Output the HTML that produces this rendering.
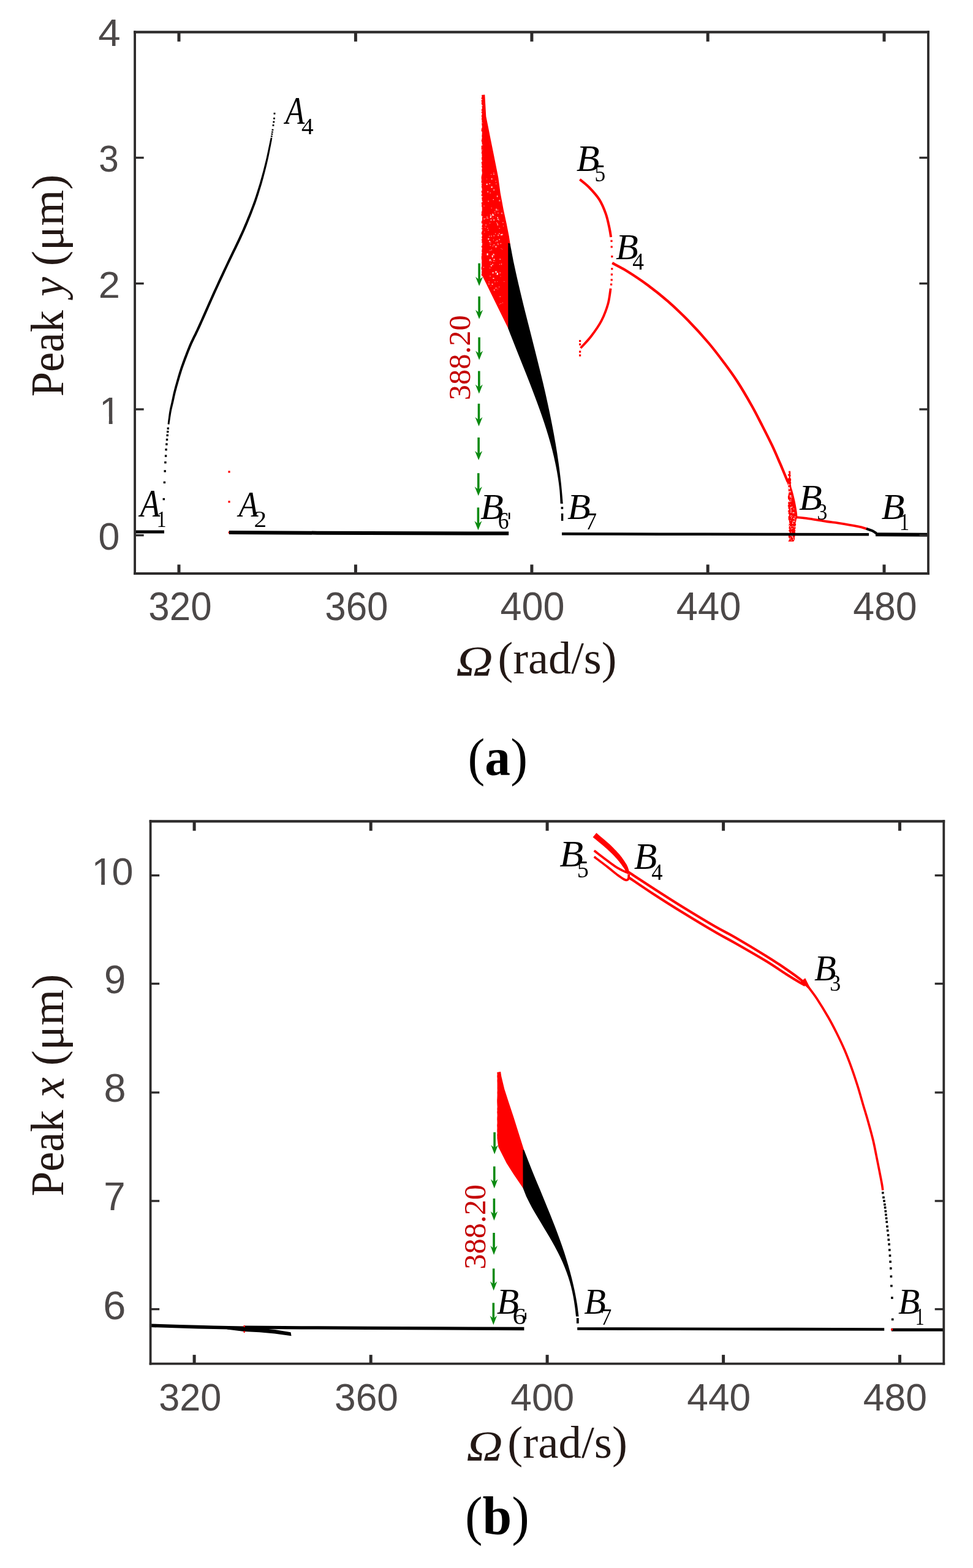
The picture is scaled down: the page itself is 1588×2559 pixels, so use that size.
<!DOCTYPE html>
<html><head><meta charset="utf-8"><title>Bifurcation diagrams</title>
<style>html,body{margin:0;padding:0;background:#fff}svg{display:block}</style></head>
<body><svg width="1588" height="2559" viewBox="0 0 1588 2559">
<rect width="1588" height="2559" fill="#fff"/>
<polygon points="276.44,692.69 276.54,692.01 276.67,691.13 276.82,690.1 276.98,688.93 277.17,687.66 277.36,686.31 277.57,684.93 277.78,683.52 278.01,682.07 278.25,680.52 278.49,678.91 278.75,677.25 279.02,675.54 279.31,673.81 279.63,672.06 279.97,670.32 280.34,668.56 280.74,666.74 281.17,664.89 281.63,663.01 282.09,661.11 282.55,659.2 283.01,657.29 283.46,655.39 283.87,653.53 284.27,651.7 284.65,649.89 285.04,648.08 285.43,646.25 285.85,644.39 286.3,642.46 286.8,640.45 287.34,638.34 287.91,636.15 288.52,633.91 289.15,631.61 289.8,629.28 290.47,626.93 291.15,624.57 291.83,622.22 292.51,619.88 293.19,617.53 293.88,615.18 294.59,612.81 295.31,610.42 296.06,608.01 296.84,605.58 297.65,603.11 298.5,600.61 299.39,598.06 300.3,595.48 301.24,592.88 302.21,590.26 303.18,587.64 304.17,585.02 305.17,582.41 306.16,579.81 307.16,577.2 308.18,574.59 309.2,571.99 310.25,569.39 311.31,566.79 312.41,564.2 313.53,561.61 314.7,559.02 315.93,556.39 317.21,553.76 318.5,551.12 319.8,548.5 321.08,545.9 322.32,543.35 323.51,540.85 324.55,538.62 325.44,536.71 326.24,534.96 327.05,533.19 327.93,531.23 328.97,528.91 330.24,526.06 331.83,522.51 333.76,518.17 335.97,513.17 338.4,507.66 340.99,501.78 343.69,495.68 346.43,489.51 349.16,483.41 351.82,477.53 354.44,471.8 357.07,466.06 359.74,460.3 362.43,454.51 365.15,448.68 367.9,442.8 370.69,436.86 373.51,430.85 376.42,424.73 379.44,418.45 382.53,412.07 385.64,405.66 388.73,399.27 391.73,392.96 394.61,386.79 397.33,380.82 399.89,374.97 402.37,369.17 404.77,363.44 407.07,357.84 409.26,352.39 411.33,347.14 413.27,342.12 415.08,337.37 416.72,332.91 418.2,328.73 419.53,324.78 420.75,321.03 421.89,317.44 422.96,313.97 423.99,310.58 425.02,307.23 426.01,303.98 426.93,300.89 427.79,297.93 428.6,295.06 429.37,292.24 430.13,289.44 430.88,286.62 431.64,283.74 432.41,280.79 433.17,277.81 433.92,274.82 434.66,271.84 435.37,268.88 436.06,265.97 436.73,263.12 437.36,260.36 437.96,257.64 438.54,254.94 439.09,252.27 439.62,249.67 440.12,247.15 440.59,244.73 441.04,242.44 441.47,240.3 441.88,238.25 442.27,236.24 442.64,234.33 442.98,232.53 443.3,230.89 443.57,229.45 443.8,228.23 443.97,227.27 441.23,226.73 441.02,227.68 440.77,228.9 440.48,230.34 440.14,231.97 439.77,233.75 439.38,235.66 438.96,237.65 438.53,239.7 438.08,241.84 437.61,244.13 437.11,246.54 436.58,249.04 436.03,251.63 435.46,254.27 434.86,256.95 434.24,259.64 433.59,262.38 432.9,265.21 432.19,268.1 431.45,271.04 430.7,274 429.93,276.97 429.15,279.93 428.36,282.86 427.57,285.73 426.8,288.53 426.02,291.31 425.23,294.1 424.4,296.95 423.53,299.88 422.59,302.94 421.58,306.17 420.53,309.51 419.47,312.88 418.38,316.33 417.23,319.89 416,323.59 414.66,327.49 413.17,331.62 411.52,336.03 409.71,340.74 407.75,345.73 405.66,350.95 403.46,356.36 401.15,361.93 398.74,367.62 396.24,373.38 393.67,379.18 390.98,385.12 388.11,391.25 385.12,397.54 382.04,403.92 378.94,410.32 375.84,416.7 372.81,423 369.89,429.15 367.07,435.16 364.28,441.1 361.52,446.98 358.8,452.82 356.11,458.62 353.44,464.38 350.8,470.13 348.18,475.87 345.51,481.77 342.78,487.88 340.03,494.06 337.33,500.17 334.74,506.05 332.31,511.56 330.1,516.55 328.17,520.89 326.59,524.43 325.32,527.28 324.28,529.59 323.4,531.54 322.6,533.3 321.8,535.04 320.93,536.93 319.89,539.15 318.72,541.61 317.49,544.14 316.21,546.73 314.91,549.35 313.61,552.01 312.32,554.67 311.07,557.34 309.87,559.99 308.73,562.62 307.62,565.25 306.54,567.88 305.49,570.51 304.45,573.14 303.43,575.76 302.43,578.38 301.43,580.99 300.44,583.61 299.46,586.25 298.49,588.89 297.53,591.53 296.59,594.16 295.68,596.77 294.8,599.35 293.95,601.89 293.14,604.39 292.36,606.86 291.62,609.29 290.9,611.71 290.2,614.1 289.52,616.47 288.84,618.83 288.17,621.18 287.5,623.53 286.84,625.9 286.18,628.27 285.54,630.62 284.91,632.93 284.31,635.2 283.74,637.41 283.2,639.55 282.71,641.61 282.27,643.58 281.85,645.48 281.46,647.33 281.09,649.15 280.72,650.95 280.34,652.77 279.94,654.61 279.53,656.48 279.1,658.38 278.66,660.29 278.22,662.21 277.79,664.11 277.37,666 276.98,667.86 276.63,669.68 276.32,671.48 276.03,673.27 275.77,675.04 275.53,676.78 275.31,678.46 275.1,680.08 274.91,681.63 274.72,683.08 274.52,684.49 274.34,685.9 274.17,687.25 274.01,688.53 273.87,689.71 273.74,690.75 273.64,691.63 273.56,692.31" fill="#000"/>
<path d="M442.6 227 C442.87 225.33 443.75 219.83 444.2 217 C444.65 214.17 445.12 211.17 445.3 210" fill="none" stroke="#000" stroke-width="2.8" stroke-linecap="butt" stroke-linejoin="round" stroke-dasharray="2.2 1.3"/>
<rect x="444.6" y="203.1" width="2.8" height="2.8" fill="#000"/>
<rect x="445.4" y="197.6" width="2.8" height="2.8" fill="#000"/>
<rect x="446.1" y="191.9" width="2.8" height="2.8" fill="#000"/>
<rect x="446.6" y="183.9" width="2.8" height="2.8" fill="#000"/>
<rect x="272.6" y="697.5" width="3.4" height="3.4" fill="#000"/>
<rect x="272.05" y="702.9" width="3.4" height="3.4" fill="#000"/>
<rect x="271.5" y="708.7" width="3.4" height="3.4" fill="#000"/>
<rect x="270.8" y="715.8" width="3.4" height="3.4" fill="#000"/>
<rect x="270.2" y="723.3" width="3.4" height="3.4" fill="#000"/>
<rect x="269.4" y="732.05" width="3.4" height="3.4" fill="#000"/>
<rect x="268.9" y="742.4" width="3.4" height="3.4" fill="#000"/>
<rect x="268.2" y="753" width="3.4" height="3.4" fill="#000"/>
<rect x="267.5" y="767.2" width="3.4" height="3.4" fill="#000"/>
<rect x="266.7" y="785.6" width="3.4" height="3.4" fill="#000"/>
<rect x="265.6" y="812.9" width="3.4" height="3.4" fill="#000"/>
<rect x="372.4" y="768.4" width="3.2" height="3.2" fill="#ff0000"/>
<rect x="372.4" y="817.3" width="3.2" height="3.2" fill="#ff0000"/>
<rect x="372.7" y="867.4" width="3.2" height="3.2" fill="#ff0000"/>
<polygon points="791.3,154.6 793.3,190 796.7,206.7 800.8,227.5 805,248.3 809.2,269.2 813.3,290 816.7,315 821.7,342 826.7,365 830.8,385.8 832.5,397 832.5,470 830,537 829.2,535.5 787.5,450.8 786.4,450 785.65,448.63 786.3,446.05 785.97,443.83 786.54,441.55 785.75,439.39 785.51,436.79 786.13,435.01 786.25,433.45 786.22,431.21 786.11,428.45 786.34,425.72 786.01,423.58 785.69,420.83 785.87,418.74 785.85,416.43 785.86,414.5 786.69,412.68 786.12,409.99 786.26,407.22 786.9,404.82 785.69,403.26 786,401 786.91,398.59 785.71,395.96 786.8,393.36 785.68,391.62 786.54,389.85 786.08,387.06 786.9,385 785.98,382.4 785.76,379.82 786.58,377.65 786.81,375.08 785.62,372.66 786.44,370.07 786.71,367.9 786.4,365.17 785.78,363.36 785.82,361.52 786.88,359.5 786.85,356.65 786.88,354.52 785.87,352.07 785.54,350.16 786.01,348.58 785.83,346.36 786.68,343.84 786.73,341.24 786.67,338.4 785.97,336.56 786.27,333.99 785.74,331.44 785.88,329.41 786.74,326.95 786.26,324.12 786.28,322.55 786.26,320.81 785.53,318.02 786.69,316.26 785.99,314.37 785.62,312.7 786.17,310.52 786.72,307.67 786.02,305.97 785.86,303.97 786.38,302.23 785.54,299.54 785.65,297.52 785.5,295.78 785.99,294.17 785.8,292.42 785.59,290.79 785.65,288.41 786.07,286.34 786.76,283.75 786.8,281.18 786.47,279.57 786.24,277.21 786.87,274.76 786.03,272.47 785.51,270.38 786.35,268.49 785.84,266.31 785.75,264.47 786.88,262.73 786.02,260.02 785.9,257.93 786.68,255.25 786.29,252.55 785.62,250.41 786.06,247.72 785.69,245.86 785.58,243.3 785.74,241.61 785.53,239.46 786.06,237.04 786.68,235.12 786.43,232.27 785.59,229.8 786.18,227.39 786.71,224.6 786.34,222.46 786.5,220.13 786.76,218.18 786.6,215.88 785.56,213.46 785.72,211.28 786.1,208.74 786.91,207.04 786.55,205.12 786.26,202.42 785.85,200.13 786.64,197.66 786.15,195.73 785.95,193.42 786.48,191.31 785.59,189.5 786.29,187.88 786.42,185.84 785.76,183.54 785.94,180.92 785.71,179.22 786.74,177.3 786.91,175.7 786.33,173.64 786.4,170.85 785.68,169.01 786.11,166.38 785.6,164.72 785.55,162.61 785.58,160.4 786.27,158.37 786.44,156.74 785.97,155" fill="#ff0000"/>
<rect x="800.45" y="352.72" width="0.9" height="1.26" fill="#fff" opacity="0.95"/>
<rect x="801.5" y="304.35" width="2.2" height="2.2" fill="#fff" opacity="0.95"/>
<rect x="805.38" y="358.2" width="1.7" height="1.7" fill="#fff" opacity="0.95"/>
<rect x="816.64" y="396.79" width="1.4" height="1.4" fill="#fff" opacity="0.8"/>
<rect x="796.25" y="327.59" width="1.7" height="1.7" fill="#fff" opacity="0.6"/>
<rect x="803.62" y="417.74" width="1.1" height="1.1" fill="#fff" opacity="0.6"/>
<rect x="797.3" y="462.78" width="1.4" height="1.4" fill="#fff" opacity="0.8"/>
<rect x="822.19" y="458.96" width="1.1" height="0.77" fill="#fff" opacity="0.8"/>
<rect x="797.55" y="459.51" width="1.1" height="1.1" fill="#fff" opacity="0.95"/>
<rect x="805.56" y="383.77" width="1.4" height="1.96" fill="#fff" opacity="0.6"/>
<rect x="795.19" y="372.06" width="1.4" height="0.98" fill="#fff" opacity="0.8"/>
<rect x="803.88" y="400.92" width="0.9" height="1.26" fill="#fff" opacity="0.8"/>
<rect x="800.86" y="396" width="0.9" height="0.63" fill="#fff" opacity="0.6"/>
<rect x="792.71" y="356.02" width="1.1" height="1.1" fill="#fff" opacity="0.6"/>
<rect x="815.49" y="444.3" width="1.4" height="1.96" fill="#fff" opacity="0.6"/>
<rect x="805.54" y="398.59" width="1.7" height="1.7" fill="#fff" opacity="0.6"/>
<rect x="813.56" y="358.55" width="1.1" height="1.54" fill="#fff" opacity="0.6"/>
<rect x="791.07" y="356.65" width="0.9" height="0.9" fill="#fff" opacity="0.6"/>
<rect x="799.16" y="408.38" width="1.4" height="0.98" fill="#fff" opacity="0.8"/>
<rect x="818.62" y="381.7" width="2.2" height="2.2" fill="#fff" opacity="0.6"/>
<rect x="799.56" y="397.29" width="0.9" height="0.9" fill="#fff" opacity="0.8"/>
<rect x="798.63" y="299" width="1.4" height="1.4" fill="#fff" opacity="0.95"/>
<rect x="800.74" y="432.55" width="2.2" height="2.2" fill="#fff" opacity="0.8"/>
<rect x="791.19" y="370.47" width="1.4" height="0.98" fill="#fff" opacity="0.6"/>
<rect x="805.33" y="281.61" width="1.1" height="1.54" fill="#fff" opacity="0.6"/>
<rect x="803.7" y="444.12" width="1.7" height="2.38" fill="#fff" opacity="0.95"/>
<rect x="798.98" y="363.75" width="1.1" height="1.1" fill="#fff" opacity="0.6"/>
<rect x="810.54" y="446.97" width="1.1" height="1.54" fill="#fff" opacity="0.8"/>
<rect x="814.98" y="496" width="0.9" height="0.63" fill="#fff" opacity="0.95"/>
<rect x="799.96" y="429.23" width="1.1" height="0.77" fill="#fff" opacity="0.6"/>
<rect x="802.63" y="416.82" width="2.2" height="2.2" fill="#fff" opacity="0.95"/>
<rect x="800.81" y="351.47" width="1.7" height="1.7" fill="#fff" opacity="0.6"/>
<rect x="789.42" y="356.67" width="1.4" height="1.4" fill="#fff" opacity="0.95"/>
<rect x="792.39" y="366.5" width="1.4" height="1.4" fill="#fff" opacity="0.8"/>
<rect x="801.7" y="338.85" width="0.9" height="1.26" fill="#fff" opacity="0.8"/>
<rect x="798.61" y="393.99" width="2.2" height="1.54" fill="#fff" opacity="0.6"/>
<rect x="795.09" y="355.75" width="1.7" height="1.19" fill="#fff" opacity="0.8"/>
<rect x="801.05" y="284.4" width="1.1" height="0.77" fill="#fff" opacity="0.95"/>
<rect x="815.65" y="483.3" width="1.1" height="1.54" fill="#fff" opacity="0.8"/>
<rect x="805.06" y="425.75" width="1.4" height="1.4" fill="#fff" opacity="0.6"/>
<rect x="810.78" y="445.37" width="2.2" height="3.08" fill="#fff" opacity="0.95"/>
<rect x="805.32" y="422.5" width="2.2" height="1.54" fill="#fff" opacity="0.95"/>
<rect x="817.44" y="404.99" width="1.1" height="0.77" fill="#fff" opacity="0.6"/>
<rect x="808.57" y="295.11" width="0.9" height="1.26" fill="#fff" opacity="0.8"/>
<rect x="808.32" y="401.51" width="2.2" height="2.2" fill="#fff" opacity="0.8"/>
<rect x="804.24" y="355.68" width="0.9" height="0.63" fill="#fff" opacity="0.95"/>
<rect x="811.74" y="397.17" width="1.7" height="1.7" fill="#fff" opacity="0.6"/>
<rect x="799.47" y="450.05" width="1.1" height="1.1" fill="#fff" opacity="0.95"/>
<rect x="804.31" y="414.49" width="1.7" height="1.19" fill="#fff" opacity="0.8"/>
<rect x="800.68" y="466.64" width="0.9" height="0.9" fill="#fff" opacity="0.6"/>
<rect x="801.63" y="407.18" width="1.4" height="1.4" fill="#fff" opacity="0.6"/>
<rect x="804.87" y="391.15" width="0.9" height="0.9" fill="#fff" opacity="0.95"/>
<rect x="810.6" y="392.16" width="1.4" height="1.96" fill="#fff" opacity="0.8"/>
<rect x="796.15" y="388.86" width="2.2" height="2.2" fill="#fff" opacity="0.8"/>
<rect x="819.86" y="493.63" width="0.9" height="0.9" fill="#fff" opacity="0.8"/>
<rect x="805.35" y="309.2" width="1.7" height="1.7" fill="#fff" opacity="0.8"/>
<rect x="807.14" y="344.98" width="1.1" height="1.1" fill="#fff" opacity="0.8"/>
<rect x="814.33" y="326.38" width="2.2" height="2.2" fill="#fff" opacity="0.6"/>
<rect x="799.38" y="422.87" width="1.7" height="2.38" fill="#fff" opacity="0.6"/>
<rect x="803.13" y="419.37" width="1.1" height="1.54" fill="#fff" opacity="0.8"/>
<rect x="796.23" y="375.22" width="1.4" height="0.98" fill="#fff" opacity="0.8"/>
<rect x="815.06" y="430.97" width="0.9" height="0.9" fill="#fff" opacity="0.95"/>
<rect x="794.03" y="353.64" width="1.7" height="1.19" fill="#fff" opacity="0.8"/>
<rect x="812.06" y="471.3" width="0.9" height="0.9" fill="#fff" opacity="0.6"/>
<rect x="809.25" y="299.54" width="1.1" height="1.1" fill="#fff" opacity="0.8"/>
<rect x="801.29" y="384.47" width="1.4" height="1.96" fill="#fff" opacity="0.6"/>
<rect x="808.41" y="442.67" width="2.2" height="2.2" fill="#fff" opacity="0.95"/>
<rect x="807.99" y="380.65" width="1.1" height="1.1" fill="#fff" opacity="0.8"/>
<rect x="804.57" y="324.94" width="1.4" height="1.4" fill="#fff" opacity="0.8"/>
<rect x="811.52" y="354.13" width="1.4" height="1.96" fill="#fff" opacity="0.95"/>
<rect x="804.82" y="350.76" width="1.7" height="1.19" fill="#fff" opacity="0.6"/>
<rect x="794.49" y="413.48" width="2.2" height="3.08" fill="#fff" opacity="0.95"/>
<rect x="818.13" y="346.95" width="1.7" height="2.38" fill="#fff" opacity="0.6"/>
<rect x="799.69" y="400.08" width="1.1" height="1.1" fill="#fff" opacity="0.95"/>
<rect x="799.57" y="314.16" width="1.4" height="1.4" fill="#fff" opacity="0.6"/>
<rect x="803.29" y="430.78" width="1.7" height="1.7" fill="#fff" opacity="0.8"/>
<rect x="811.94" y="356.9" width="1.7" height="1.7" fill="#fff" opacity="0.95"/>
<rect x="808.37" y="394.08" width="1.1" height="0.77" fill="#fff" opacity="0.8"/>
<rect x="802.7" y="462.71" width="1.7" height="2.38" fill="#fff" opacity="0.8"/>
<rect x="816.5" y="450.63" width="0.9" height="0.9" fill="#fff" opacity="0.6"/>
<rect x="812.32" y="382.82" width="1.7" height="2.38" fill="#fff" opacity="0.6"/>
<rect x="805.84" y="472.2" width="1.7" height="2.38" fill="#fff" opacity="0.6"/>
<rect x="799.2" y="436.95" width="1.1" height="0.77" fill="#fff" opacity="0.95"/>
<rect x="815.37" y="422.49" width="1.7" height="1.19" fill="#fff" opacity="0.95"/>
<rect x="788.87" y="435.76" width="1.1" height="1.1" fill="#fff" opacity="0.95"/>
<rect x="808.8" y="469.54" width="1.4" height="1.4" fill="#fff" opacity="0.95"/>
<rect x="808.55" y="353.36" width="0.9" height="0.63" fill="#fff" opacity="0.6"/>
<rect x="820.34" y="362.43" width="1.1" height="1.54" fill="#fff" opacity="0.8"/>
<rect x="807.63" y="347.69" width="0.9" height="0.9" fill="#fff" opacity="0.8"/>
<rect x="801.31" y="358.47" width="1.1" height="1.54" fill="#fff" opacity="0.95"/>
<rect x="799.76" y="349.98" width="1.7" height="1.7" fill="#fff" opacity="0.6"/>
<rect x="805.16" y="283.93" width="1.7" height="1.19" fill="#fff" opacity="0.8"/>
<rect x="803.53" y="348.57" width="1.4" height="1.4" fill="#fff" opacity="0.8"/>
<rect x="801.76" y="291.2" width="1.7" height="1.7" fill="#fff" opacity="0.95"/>
<rect x="789.94" y="378.41" width="1.4" height="0.98" fill="#fff" opacity="0.6"/>
<rect x="798.59" y="393.01" width="1.1" height="1.1" fill="#fff" opacity="0.8"/>
<rect x="812.22" y="347.24" width="1.4" height="0.98" fill="#fff" opacity="0.95"/>
<rect x="798.24" y="393.02" width="1.1" height="1.54" fill="#fff" opacity="0.8"/>
<rect x="818.99" y="406.49" width="0.9" height="0.9" fill="#fff" opacity="0.6"/>
<rect x="793.8" y="299.63" width="1.7" height="2.38" fill="#fff" opacity="0.95"/>
<rect x="811.33" y="459.16" width="0.9" height="0.9" fill="#fff" opacity="0.8"/>
<rect x="808.99" y="340.6" width="2.2" height="3.08" fill="#fff" opacity="0.6"/>
<rect x="811.1" y="364.46" width="1.4" height="1.4" fill="#fff" opacity="0.8"/>
<rect x="789.27" y="335.65" width="1.4" height="0.98" fill="#fff" opacity="0.8"/>
<rect x="817.07" y="382.07" width="2.2" height="2.2" fill="#fff" opacity="0.8"/>
<rect x="814.38" y="372.06" width="1.7" height="1.19" fill="#fff" opacity="0.6"/>
<rect x="798.47" y="423.19" width="2.2" height="3.08" fill="#fff" opacity="0.6"/>
<rect x="811.47" y="366.46" width="1.7" height="1.19" fill="#fff" opacity="0.95"/>
<rect x="814.01" y="380.64" width="1.7" height="1.19" fill="#fff" opacity="0.8"/>
<rect x="793.92" y="291.6" width="0.9" height="0.9" fill="#fff" opacity="0.6"/>
<rect x="817.73" y="430.35" width="1.4" height="1.4" fill="#fff" opacity="0.8"/>
<rect x="821.07" y="368.45" width="0.9" height="0.9" fill="#fff" opacity="0.95"/>
<rect x="801.31" y="425.07" width="1.4" height="1.4" fill="#fff" opacity="0.6"/>
<rect x="807.49" y="425.9" width="0.9" height="0.63" fill="#fff" opacity="0.6"/>
<rect x="810.8" y="319.2" width="1.7" height="2.38" fill="#fff" opacity="0.8"/>
<rect x="814.12" y="467.57" width="1.1" height="1.54" fill="#fff" opacity="0.6"/>
<rect x="810.11" y="362.96" width="1.1" height="1.1" fill="#fff" opacity="0.8"/>
<rect x="804.32" y="453.57" width="2.2" height="1.54" fill="#fff" opacity="0.95"/>
<rect x="811.97" y="342.07" width="1.1" height="1.54" fill="#fff" opacity="0.6"/>
<rect x="804.78" y="414.43" width="2.2" height="2.2" fill="#fff" opacity="0.6"/>
<rect x="816.99" y="494.94" width="0.9" height="0.9" fill="#fff" opacity="0.95"/>
<rect x="795.35" y="311.84" width="1.7" height="2.38" fill="#fff" opacity="0.6"/>
<rect x="803.37" y="349.86" width="2.2" height="2.2" fill="#fff" opacity="0.95"/>
<rect x="812.66" y="398.86" width="0.9" height="0.9" fill="#fff" opacity="0.8"/>
<rect x="800.24" y="358.61" width="1.4" height="1.4" fill="#fff" opacity="0.6"/>
<rect x="798.2" y="384.94" width="1.1" height="1.1" fill="#fff" opacity="0.8"/>
<rect x="807.06" y="459.31" width="1.4" height="0.98" fill="#fff" opacity="0.8"/>
<rect x="799.74" y="353.34" width="2.2" height="2.2" fill="#fff" opacity="0.95"/>
<rect x="809.01" y="441.95" width="0.9" height="0.63" fill="#fff" opacity="0.6"/>
<rect x="814.28" y="390.07" width="1.7" height="1.7" fill="#fff" opacity="0.6"/>
<rect x="785" y="405.53" width="1.37" height="0.84" fill="#fff"/>
<rect x="785" y="328.14" width="2.32" height="0.96" fill="#fff"/>
<rect x="785" y="181.03" width="1.82" height="0.94" fill="#fff"/>
<rect x="785" y="328.85" width="2.24" height="1.33" fill="#fff"/>
<rect x="785" y="161.78" width="2.02" height="1.37" fill="#fff"/>
<rect x="785" y="257.92" width="1.06" height="1.07" fill="#fff"/>
<rect x="785" y="172.37" width="2.6" height="0.83" fill="#fff"/>
<rect x="785" y="365.02" width="2.46" height="1.45" fill="#fff"/>
<rect x="785" y="389.27" width="1.65" height="1.1" fill="#fff"/>
<rect x="785" y="333.88" width="1.12" height="0.83" fill="#fff"/>
<rect x="785" y="298.78" width="1.77" height="1.13" fill="#fff"/>
<rect x="785" y="382.84" width="2.06" height="0.92" fill="#fff"/>
<rect x="785" y="309.52" width="2.04" height="1.12" fill="#fff"/>
<rect x="785" y="235.93" width="2.58" height="1.33" fill="#fff"/>
<rect x="785" y="277" width="1.08" height="1.4" fill="#fff"/>
<rect x="785" y="407.43" width="1.66" height="0.81" fill="#fff"/>
<rect x="785" y="374.67" width="2.28" height="1.32" fill="#fff"/>
<rect x="785" y="269.4" width="1.65" height="1.55" fill="#fff"/>
<rect x="785" y="281.57" width="1.25" height="0.89" fill="#fff"/>
<rect x="785" y="185.34" width="1.92" height="1.09" fill="#fff"/>
<rect x="785" y="376.46" width="1.21" height="0.84" fill="#fff"/>
<rect x="785" y="199.9" width="2.29" height="1.12" fill="#fff"/>
<rect x="785" y="320.4" width="2.48" height="1.39" fill="#fff"/>
<rect x="785" y="208.07" width="1.56" height="0.93" fill="#fff"/>
<rect x="785" y="208.1" width="1.11" height="1.11" fill="#fff"/>
<rect x="785" y="371" width="2.27" height="1.44" fill="#fff"/>
<rect x="785" y="244.45" width="2.34" height="0.83" fill="#fff"/>
<rect x="785" y="415.58" width="1.5" height="1.29" fill="#fff"/>
<rect x="785" y="338.18" width="1.14" height="1.37" fill="#fff"/>
<rect x="785" y="352.7" width="2.43" height="1.31" fill="#fff"/>
<rect x="785" y="399.84" width="1.99" height="1.29" fill="#fff"/>
<rect x="785" y="214.91" width="1.76" height="1.25" fill="#fff"/>
<rect x="785" y="171.68" width="2.5" height="0.93" fill="#fff"/>
<rect x="785" y="260.58" width="1.24" height="1.58" fill="#fff"/>
<rect x="785" y="388.38" width="1.31" height="1.51" fill="#fff"/>
<rect x="785" y="395.9" width="2.08" height="1.33" fill="#fff"/>
<rect x="785" y="250.78" width="1.62" height="1.16" fill="#fff"/>
<rect x="785" y="397.72" width="2.24" height="1.32" fill="#fff"/>
<rect x="785" y="246.3" width="1.4" height="1.11" fill="#fff"/>
<rect x="785" y="262.89" width="1.81" height="0.94" fill="#fff"/>
<path d="M829.2 396.5 L832.5 397.5 C833.55 402.95 836.55 419.32 838.8 430.2 C841.05 441.08 843.5 451.92 846 462.8 C848.5 473.68 851.13 484.62 853.8 495.5 C856.47 506.38 859.25 517.22 862 528.1 C864.75 538.98 867.55 549.92 870.3 560.8 C873.05 571.68 875.8 582.52 878.5 593.4 C881.2 604.28 883.93 615.22 886.5 626.1 C889.07 636.98 891.53 647.82 893.9 658.7 C896.27 669.58 898.57 680.52 900.7 691.4 C902.83 702.28 904.85 713.12 906.7 724 C908.55 734.88 910.28 745.82 911.8 756.7 C913.32 767.58 914.63 778.42 915.8 789.3 C916.97 800.18 918.3 816.55 918.8 822 L914.7 822 C914.47 818.33 914.02 807.33 913.3 800 C912.58 792.67 911.57 785.33 910.4 778 C909.23 770.67 907.83 763.33 906.3 756 C904.77 748.67 903.07 741.33 901.2 734 C899.33 726.67 897.27 719.33 895.1 712 C892.93 704.67 890.62 697.33 888.2 690 C885.78 682.67 883.22 675.33 880.6 668 C877.98 660.67 875.25 653.33 872.5 646 C869.75 638.67 866.95 631.33 864.1 624 C861.25 616.67 858.32 609.33 855.4 602 C852.48 594.67 849.52 587.33 846.6 580 C843.68 572.67 840.78 565.33 837.9 558 C835.02 550.67 830.73 539.67 829.3 536 Z" fill="#000"/>
<rect x="915.6" y="827.2" width="3.6" height="3.6" fill="#000"/>
<line x1="917.6" y1="838" x2="917.6" y2="850" stroke="#000" stroke-width="3.4" stroke-linecap="butt"/>
<line x1="831.2" y1="836.7" x2="831.2" y2="847.3" stroke="#000" stroke-width="2.5" stroke-linecap="butt"/>
<path d="M946.3 292.8 C948.78 294.92 955.9 300.03 961.2 305.5 C966.5 310.97 973.52 318.37 978.1 325.6 C982.68 332.83 985.95 341.13 988.7 348.9 C991.45 356.67 993.2 365.85 994.6 372.2 C996 378.55 996.68 384.53 997.1 387" fill="none" stroke="#ff0000" stroke-width="4" stroke-linecap="butt" stroke-linejoin="round" />
<rect x="996.4" y="391.7" width="3.2" height="3.2" fill="#ff0000"/>
<rect x="996.6" y="401.3" width="3.2" height="3.2" fill="#ff0000"/>
<rect x="997.2" y="417.1" width="3.2" height="3.2" fill="#ff0000"/>
<rect x="997.2" y="437.2" width="3.2" height="3.2" fill="#ff0000"/>
<rect x="996.8" y="446.4" width="3.2" height="3.2" fill="#ff0000"/>
<rect x="996.6" y="455.2" width="3.2" height="3.2" fill="#ff0000"/>
<rect x="996" y="462.6" width="3.2" height="3.2" fill="#ff0000"/>
<path d="M996.6 470.7 C995.88 474.92 994.82 487.18 992.3 496 C989.78 504.82 986.12 514.77 981.5 523.6 C976.88 532.43 970.25 541.6 964.6 549 C958.95 556.4 950.43 564.83 947.6 568" fill="none" stroke="#ff0000" stroke-width="3.8" stroke-linecap="butt" stroke-linejoin="round" />
<rect x="945" y="554.9" width="3.2" height="3.2" fill="#ff0000"/>
<rect x="945" y="560.4" width="3.2" height="3.2" fill="#ff0000"/>
<rect x="945" y="572.4" width="3.2" height="3.2" fill="#ff0000"/>
<rect x="945" y="578.4" width="3.2" height="3.2" fill="#ff0000"/>
<path d="M999.2 429.2 C1003.22 431.42 1013.72 436.53 1023.3 442.5 C1032.88 448.47 1045.58 456.8 1056.7 465 C1067.82 473.2 1078.9 481.98 1090 491.7 C1101.1 501.42 1112.18 511.92 1123.3 523.3 C1134.42 534.68 1146.97 548.55 1156.7 560 C1166.43 571.45 1173.93 581.58 1181.7 592 C1189.47 602.42 1195.8 610.88 1203.3 622.5 C1210.8 634.12 1220.03 649.9 1226.7 661.7 C1233.37 673.5 1237.75 682.47 1243.3 693.3 C1248.85 704.13 1255 716.13 1260 726.7 C1265 737.27 1269.63 748.23 1273.3 756.7 C1276.97 765.17 1279.27 770.9 1282 777.5 C1284.73 784.1 1287.53 789.87 1289.7 796.3 C1291.87 802.73 1293.52 809.48 1295 816.1 C1296.48 822.72 1297.88 831.27 1298.6 836 C1299.32 840.73 1299.18 843.08 1299.3 844.5" fill="none" stroke="#ff0000" stroke-width="4.2" stroke-linecap="butt" stroke-linejoin="round" />
<polygon points="1287.8,771 1287.8,772.74 1285.57,774.91 1286.71,776.55 1287.8,777.8 1287.36,779.86 1285.47,781.84 1285.68,783.78 1287.51,786.04 1285.97,788.07 1286.24,790 1286.06,792.29 1286.94,794.64 1286.37,796.58 1287.06,798.02 1286.38,799.55 1287.4,801.7 1287.91,802.96 1287.19,804.71 1286.79,806.98 1286.37,809.21 1285.78,810.86 1286,812.46 1286.17,814.4 1287.91,816.22 1287.73,818.46 1285.98,820.54 1286.49,822.09 1286.67,823.73 1285.54,825.66 1286.76,827.54 1286.18,829.38 1287.55,830.74 1287.48,832.13 1285.57,834.18 1287,835.56 1286.45,837.73 1287.85,839.91 1287.65,841.81 1286.3,843.6 1286.78,844.87 1286.57,846.27 1286.81,848.2 1287.97,849.9 1287.89,851.87 1287.93,853.68 1287.54,856.08 1287.44,857.92 1288,860.22 1286.98,861.63 1288.62,863.6 1286.98,865.91 1288.07,867.17 1288.83,869.2 1288.62,870.75 1286.74,872.05 1286.83,874.34 1286.8,875.73 1287.29,877.4 1288.85,879.62 1287.53,881.83 1286.37,883.67 1295.24,883.67 1296.32,881.83 1297.17,879.62 1296.75,877.4 1297.44,875.73 1297.41,874.34 1296.97,872.05 1297.82,870.75 1297.95,869.2 1297.71,867.17 1298.42,865.91 1297.24,863.6 1299.07,861.63 1297.6,860.22 1298.43,857.92 1299.29,856.08 1298.29,853.68 1299.06,851.87 1299.39,849.9 1299.77,848.2 1300.37,846.27 1298.88,844.87 1299.15,843.6 1299.71,841.81 1300,839.91 1299.86,837.73 1299.01,835.56 1298.36,834.18 1297.17,832.13 1297.53,830.74 1297.35,829.38 1296.79,827.54 1295.96,825.66 1295.58,823.73 1296.3,822.09 1296.21,820.54 1296.13,818.46 1294.58,816.22 1295.27,814.4 1293.17,812.46 1293.26,810.86 1293.48,809.21 1292.01,806.98 1291.89,804.71 1292.34,802.96 1291.21,801.7 1291.22,799.55 1291.28,798.02 1290.91,796.58 1291.25,794.64 1291.09,792.29 1290.6,790 1291.35,788.07 1290.47,786.04 1291.09,783.78 1291.15,781.84 1289.79,779.86 1289.77,777.8 1290.92,776.55 1290.12,774.91 1290.2,772.74 1290.2,771" fill="#ff0000"/>
<rect x="1290.17" y="808.45" width="1.59" height="1.27" fill="#fff" opacity="0.9"/>
<rect x="1293.19" y="842.19" width="0.97" height="0.84" fill="#fff" opacity="0.9"/>
<rect x="1287.58" y="796.74" width="0.96" height="1.97" fill="#fff" opacity="0.9"/>
<rect x="1288.27" y="853.27" width="0.94" height="1.57" fill="#fff" opacity="0.9"/>
<rect x="1287.73" y="790.09" width="0.85" height="1.83" fill="#fff" opacity="0.9"/>
<rect x="1289.61" y="859.13" width="1.75" height="1.44" fill="#fff" opacity="0.9"/>
<rect x="1295.89" y="849.76" width="1.56" height="1.65" fill="#fff" opacity="0.9"/>
<rect x="1289.44" y="822.85" width="1" height="0.84" fill="#fff" opacity="0.9"/>
<rect x="1293.64" y="877.13" width="1.55" height="0.9" fill="#fff" opacity="0.9"/>
<rect x="1293.2" y="858.14" width="1.28" height="0.96" fill="#fff" opacity="0.9"/>
<rect x="1292.99" y="862.03" width="1.09" height="1.2" fill="#fff" opacity="0.9"/>
<rect x="1289.11" y="811.07" width="1.73" height="0.86" fill="#fff" opacity="0.9"/>
<rect x="1295.39" y="858.95" width="1.57" height="1.52" fill="#fff" opacity="0.9"/>
<rect x="1290.17" y="831.7" width="1.55" height="1.75" fill="#fff" opacity="0.9"/>
<rect x="1285.68" y="789" width="0.9" height="1.36" fill="#fff" opacity="0.9"/>
<rect x="1285.93" y="790.62" width="1.51" height="1.79" fill="#fff" opacity="0.9"/>
<rect x="1290.6" y="841.16" width="1.24" height="1.43" fill="#fff" opacity="0.9"/>
<rect x="1290.89" y="813.68" width="0.85" height="1.22" fill="#fff" opacity="0.9"/>
<rect x="1287.05" y="795.19" width="1.63" height="1.96" fill="#fff" opacity="0.9"/>
<rect x="1296.86" y="842.89" width="1.32" height="1.49" fill="#fff" opacity="0.9"/>
<rect x="1288.43" y="801.25" width="1.74" height="1.08" fill="#fff" opacity="0.9"/>
<rect x="1288.66" y="801.92" width="1.57" height="1.39" fill="#fff" opacity="0.9"/>
<rect x="1291.31" y="881.15" width="0.9" height="1.19" fill="#fff" opacity="0.9"/>
<rect x="1286.71" y="795.13" width="1.69" height="1.69" fill="#fff" opacity="0.9"/>
<rect x="1292.23" y="826.52" width="1.17" height="1.16" fill="#fff" opacity="0.9"/>
<rect x="1291.63" y="827.09" width="0.97" height="1.98" fill="#fff" opacity="0.9"/>
<rect x="1296.69" y="846.55" width="0.93" height="1.51" fill="#fff" opacity="0.9"/>
<rect x="1293.32" y="852.17" width="0.83" height="1.5" fill="#fff" opacity="0.9"/>
<rect x="1295.3" y="836.09" width="1.25" height="1.46" fill="#fff" opacity="0.9"/>
<rect x="1290.17" y="817.04" width="1.49" height="1.11" fill="#fff" opacity="0.9"/>
<rect x="1288.79" y="808.18" width="1.44" height="1.64" fill="#fff" opacity="0.9"/>
<rect x="1290.18" y="834.74" width="1.55" height="1.79" fill="#fff" opacity="0.9"/>
<rect x="1294.73" y="845.26" width="1.77" height="1.67" fill="#fff" opacity="0.9"/>
<rect x="1291.27" y="843.88" width="1.04" height="1.95" fill="#fff" opacity="0.9"/>
<rect x="1290.95" y="810.83" width="1.79" height="1" fill="#fff" opacity="0.9"/>
<rect x="1289.76" y="849.16" width="0.95" height="0.98" fill="#fff" opacity="0.9"/>
<rect x="1289.25" y="815" width="1.07" height="0.93" fill="#fff" opacity="0.9"/>
<rect x="1289.81" y="873.49" width="1.69" height="1.36" fill="#fff" opacity="0.9"/>
<rect x="1283.41" y="787.21" width="1.24" height="1.07" fill="#fff" opacity="0.9"/>
<rect x="1289.77" y="880.16" width="0.82" height="1.11" fill="#fff" opacity="0.9"/>
<rect x="1288.05" y="856.87" width="1.04" height="1.82" fill="#fff" opacity="0.9"/>
<rect x="1293.11" y="853.31" width="1.45" height="1.82" fill="#fff" opacity="0.9"/>
<rect x="1293.83" y="850.12" width="1.68" height="1.57" fill="#fff" opacity="0.9"/>
<rect x="1290.09" y="842.04" width="0.98" height="0.95" fill="#fff" opacity="0.9"/>
<rect x="1289.75" y="827.52" width="1.5" height="1.87" fill="#fff" opacity="0.9"/>
<rect x="1289.07" y="809.27" width="1.51" height="0.99" fill="#fff" opacity="0.9"/>
<rect x="1291.39" y="867.55" width="0.82" height="1.83" fill="#fff" opacity="0.9"/>
<rect x="1293.52" y="835.75" width="1.67" height="1.87" fill="#fff" opacity="0.9"/>
<rect x="1288.05" y="817.49" width="1.63" height="1.89" fill="#fff" opacity="0.9"/>
<rect x="1287.79" y="796.21" width="1.02" height="1.66" fill="#fff" opacity="0.9"/>
<rect x="1289.23" y="877.33" width="1.15" height="1.82" fill="#fff" opacity="0.9"/>
<rect x="1289.47" y="829.85" width="1.28" height="0.82" fill="#fff" opacity="0.9"/>
<rect x="1290.85" y="862.09" width="1.14" height="1.69" fill="#fff" opacity="0.9"/>
<rect x="1295.13" y="829.86" width="0.98" height="1.42" fill="#fff" opacity="0.9"/>
<rect x="1292.6" y="875.54" width="1.41" height="1.57" fill="#fff" opacity="0.9"/>
<rect x="1289.12" y="810.24" width="0.86" height="0.89" fill="#fff" opacity="0.9"/>
<rect x="1292.04" y="873.88" width="1.47" height="1.5" fill="#fff" opacity="0.9"/>
<rect x="1287.77" y="796.49" width="1.2" height="1.94" fill="#fff" opacity="0.9"/>
<rect x="1294" y="879.26" width="1.76" height="1.35" fill="#fff" opacity="0.9"/>
<rect x="1288.62" y="801.8" width="0.87" height="1.76" fill="#fff" opacity="0.9"/>
<rect x="1287.1" y="768.7" width="3" height="3" fill="#ff0000"/>
<path d="M1299 844.2 C1301.85 844.48 1307.6 844.73 1316.1 845.9 C1324.6 847.07 1341.33 849.92 1350 851.2 C1358.67 852.48 1359.78 852.27 1368.1 853.6 C1376.42 854.93 1392.13 857.63 1399.9 859.2 C1407.67 860.77 1412.23 862.37 1414.7 863" fill="none" stroke="#ff0000" stroke-width="3.9" stroke-linecap="butt" stroke-linejoin="round" />
<path d="M1414 862.8 C1415.67 863.38 1421.25 865.02 1424 866.3 C1426.75 867.58 1429.42 869.8 1430.5 870.5" fill="none" stroke="#000" stroke-width="4.2" stroke-linecap="butt" stroke-linejoin="round" />
<line x1="221" y1="868" x2="268" y2="868" stroke="#000" stroke-width="5" stroke-linecap="butt"/>
<path d="M374 869 C411.67 869.17 523.97 869.73 600 870 C676.03 870.27 791.83 870.5 830.2 870.6" fill="none" stroke="#000" stroke-width="6" stroke-linecap="butt" stroke-linejoin="round" />
<path d="M917 871.2 C955.83 871.3 1066.5 871.63 1150 871.8 C1233.5 871.97 1373.33 872.13 1418 872.2" fill="none" stroke="#000" stroke-width="4.5" stroke-linecap="butt" stroke-linejoin="round" />
<line x1="1429" y1="872.3" x2="1513.5" y2="872.8" stroke="#000" stroke-width="6" stroke-linecap="butt"/>
<line x1="782.1" y1="429.7" x2="782.1" y2="459.2" stroke="#0a8a10" stroke-width="3.6" stroke-linecap="butt"/>
<path d="M782.1 466.7 L776.1 451.7 Q780 454.7 782.1 456.8 Q784.2 454.7 788.1 451.7 Z" fill="#0a8a10"/>
<line x1="782.1" y1="483.8" x2="782.1" y2="513.3" stroke="#0a8a10" stroke-width="3.6" stroke-linecap="butt"/>
<path d="M782.1 520.8 L776.1 505.8 Q780 508.8 782.1 510.9 Q784.2 508.8 788.1 505.8 Z" fill="#0a8a10"/>
<line x1="782.1" y1="550.5" x2="782.1" y2="580" stroke="#0a8a10" stroke-width="3.6" stroke-linecap="butt"/>
<path d="M782.1 587.5 L776.1 572.5 Q780 575.5 782.1 577.6 Q784.2 575.5 788.1 572.5 Z" fill="#0a8a10"/>
<line x1="781.83" y1="605.5" x2="781.83" y2="635" stroke="#0a8a10" stroke-width="3.6" stroke-linecap="butt"/>
<path d="M781.83 642.5 L775.83 627.5 Q779.73 630.5 781.83 632.6 Q783.93 630.5 787.83 627.5 Z" fill="#0a8a10"/>
<line x1="781.49" y1="658.8" x2="781.49" y2="688.3" stroke="#0a8a10" stroke-width="3.6" stroke-linecap="butt"/>
<path d="M781.49 695.8 L775.49 680.8 Q779.39 683.8 781.49 685.9 Q783.59 683.8 787.49 680.8 Z" fill="#0a8a10"/>
<line x1="781.13" y1="714" x2="781.13" y2="743.5" stroke="#0a8a10" stroke-width="3.6" stroke-linecap="butt"/>
<path d="M781.13 751 L775.13 736 Q779.03 739 781.13 741.1 Q783.23 739 787.13 736 Z" fill="#0a8a10"/>
<line x1="780.76" y1="772.2" x2="780.76" y2="801.7" stroke="#0a8a10" stroke-width="3.6" stroke-linecap="butt"/>
<path d="M780.76 809.2 L774.76 794.2 Q778.66 797.2 780.76 799.3 Q782.86 797.2 786.76 794.2 Z" fill="#0a8a10"/>
<line x1="780.4" y1="828.3" x2="780.4" y2="857.8" stroke="#0a8a10" stroke-width="3.6" stroke-linecap="butt"/>
<path d="M780.4 865.3 L774.4 850.3 Q778.3 853.3 780.4 855.4 Q782.5 853.3 786.4 850.3 Z" fill="#0a8a10"/>
<line x1="292" y1="52.4" x2="292" y2="67.8" stroke="#2d2b2b" stroke-width="5" stroke-linecap="butt"/>
<line x1="292" y1="936" x2="292" y2="921.4" stroke="#2d2b2b" stroke-width="5" stroke-linecap="butt"/>
<line x1="580.4" y1="52.4" x2="580.4" y2="67.8" stroke="#2d2b2b" stroke-width="5" stroke-linecap="butt"/>
<line x1="580.4" y1="936" x2="580.4" y2="921.4" stroke="#2d2b2b" stroke-width="5" stroke-linecap="butt"/>
<line x1="867.9" y1="52.4" x2="867.9" y2="67.8" stroke="#2d2b2b" stroke-width="5" stroke-linecap="butt"/>
<line x1="867.9" y1="936" x2="867.9" y2="921.4" stroke="#2d2b2b" stroke-width="5" stroke-linecap="butt"/>
<line x1="1155.2" y1="52.4" x2="1155.2" y2="67.8" stroke="#2d2b2b" stroke-width="5" stroke-linecap="butt"/>
<line x1="1155.2" y1="936" x2="1155.2" y2="921.4" stroke="#2d2b2b" stroke-width="5" stroke-linecap="butt"/>
<line x1="1443" y1="52.4" x2="1443" y2="67.8" stroke="#2d2b2b" stroke-width="5" stroke-linecap="butt"/>
<line x1="1443" y1="936" x2="1443" y2="921.4" stroke="#2d2b2b" stroke-width="5" stroke-linecap="butt"/>
<line x1="220.1" y1="257.4" x2="234.7" y2="257.4" stroke="#2d2b2b" stroke-width="3.4" stroke-linecap="butt"/>
<line x1="1515" y1="257.4" x2="1500.4" y2="257.4" stroke="#2d2b2b" stroke-width="3.4" stroke-linecap="butt"/>
<line x1="220.1" y1="462.7" x2="234.7" y2="462.7" stroke="#2d2b2b" stroke-width="3.4" stroke-linecap="butt"/>
<line x1="1515" y1="462.7" x2="1500.4" y2="462.7" stroke="#2d2b2b" stroke-width="3.4" stroke-linecap="butt"/>
<line x1="220.1" y1="668" x2="234.7" y2="668" stroke="#2d2b2b" stroke-width="3.4" stroke-linecap="butt"/>
<line x1="1515" y1="668" x2="1500.4" y2="668" stroke="#2d2b2b" stroke-width="3.4" stroke-linecap="butt"/>
<line x1="220.1" y1="873.6" x2="234.7" y2="873.6" stroke="#2d2b2b" stroke-width="3.4" stroke-linecap="butt"/>
<line x1="1515" y1="873.6" x2="1500.4" y2="873.6" stroke="#2d2b2b" stroke-width="3.4" stroke-linecap="butt"/>
<line x1="218.2" y1="52.4" x2="1516.9" y2="52.4" stroke="#2d2b2b" stroke-width="4.4" stroke-linecap="butt"/>
<line x1="218.2" y1="936" x2="1516.9" y2="936" stroke="#2d2b2b" stroke-width="3.8" stroke-linecap="butt"/>
<line x1="220.1" y1="50.2" x2="220.1" y2="937.9" stroke="#2d2b2b" stroke-width="3.8" stroke-linecap="butt"/>
<line x1="1515" y1="50.2" x2="1515" y2="937.9" stroke="#2d2b2b" stroke-width="3.8" stroke-linecap="butt"/>
<clipPath id="c1"><polygon points="165.41,646.94 183.62,646.94 183.62,694.3 177.76,694.3 177.76,679.7 165.41,679.7"/></clipPath>
<g clip-path="url(#c1)"><text transform="matrix(0.63000 0 0 0.63000 162.00 692.30)" font-family='"Liberation Sans", sans-serif' font-style="normal" font-weight="normal" font-size="100" fill="#4c4848">1</text></g>
<path d="M245.6 2163.3 C258.5 2163.68 297.6 2164.95 323 2165.6 C348.4 2166.25 381.83 2166.9 398 2167.2 C414.17 2167.5 416.33 2167.37 420 2167.4" fill="none" stroke="#000" stroke-width="5.6" stroke-linecap="butt" stroke-linejoin="round" />
<path d="M398 2166.2 C413.67 2166.3 458.33 2166.6 492 2166.8 C525.67 2167 539.43 2167.12 600 2167.4 C660.57 2167.68 812.83 2168.32 855.4 2168.5" fill="none" stroke="#000" stroke-width="5.3" stroke-linecap="butt" stroke-linejoin="round" />
<polygon points="385,2165 423,2167.5 448.3,2170 474.5,2174.2 475.5,2180.2 448.3,2176.4 423.3,2174.3 398.3,2173 370,2169.5" fill="#000"/>
<path d="M942.2 2168.5 C985.17 2168.58 1116.5 2168.83 1200 2169 C1283.5 2169.17 1402.67 2169.42 1443.2 2169.5" fill="none" stroke="#000" stroke-width="4.6" stroke-linecap="butt" stroke-linejoin="round" />
<line x1="1455" y1="2170.2" x2="1540" y2="2170.2" stroke="#000" stroke-width="5" stroke-linecap="butt"/>
<rect x="397.4" y="2163.2" width="2.6" height="2.6" fill="#ff0000"/>
<rect x="397.4" y="2172.2" width="2.6" height="2.6" fill="#ff0000"/>
<rect x="1454" y="2168.2" width="3.2" height="3.2" fill="#ff0000"/>
<polygon points="817.1,1749 818.3,1756.7 823.3,1777.5 830,1798.3 838.3,1823.3 846.7,1850 855.4,1877.5 855,1940.5 853.6,1939 838.3,1916.5 826.7,1898.3 813.3,1871.7 811.3,1856.7 811.5,1856 811.38,1854.52 811.22,1852.21 811.62,1848.9 811.27,1846.66 811.32,1843.67 811.46,1840.43 811.2,1836.7 811.54,1832.84 811.45,1829.65 811.27,1826.82 811.4,1823.31 811.63,1820.87 811.49,1817.73 811.19,1815.11 811.52,1812.63 811.34,1809.48 811.68,1806.43 811.47,1803.74 811.37,1801.49 811.24,1798.84 811.2,1795.13 811.42,1791.9 811.52,1789.23 811.6,1786.48 811.42,1782.93 811.7,1779.61 811.54,1776.27 811.59,1773.76 811.59,1770.81 811.58,1767.55 811.38,1763.65 811.62,1760.12 811.23,1756.82 811.55,1753.26 811.26,1750" fill="#ff0000"/>
<path d="M853.3 1876 L855.6 1877.5 C856.93 1880.97 860.87 1891.35 863.6 1898.3 C866.33 1905.25 869.15 1912.25 872 1919.2 C874.85 1926.15 877.82 1933.05 880.7 1940 C883.58 1946.95 886.45 1953.95 889.3 1960.9 C892.15 1967.85 895.02 1974.75 897.8 1981.7 C900.58 1988.65 903.33 1995.65 906 2002.6 C908.67 2009.55 911.3 2016.45 913.8 2023.4 C916.3 2030.35 918.73 2037.35 921 2044.3 C923.27 2051.25 925.38 2058.15 927.4 2065.1 C929.42 2072.05 931.35 2079.05 933.1 2086 C934.85 2092.95 936.45 2099.85 937.9 2106.8 C939.35 2113.75 940.68 2120.75 941.8 2127.7 C942.92 2134.65 944.13 2145.03 944.6 2148.5 L940.1 2148.5 C939.78 2145.82 938.95 2137.77 938.2 2132.4 C937.45 2127.03 936.62 2121.67 935.6 2116.3 C934.58 2110.93 933.47 2105.58 932.1 2100.2 C930.73 2094.82 929.17 2089.38 927.4 2084 C925.63 2078.62 923.67 2073.27 921.5 2067.9 C919.33 2062.53 916.95 2057.17 914.4 2051.8 C911.85 2046.43 909.08 2041.07 906.2 2035.7 C903.32 2030.33 900.22 2024.97 897.1 2019.6 C893.98 2014.23 890.72 2008.88 887.5 2003.5 C884.28 1998.12 880.98 1992.68 877.8 1987.3 C874.62 1981.92 871.35 1976.57 868.4 1971.2 C865.45 1965.83 862.57 1960.47 860.1 1955.1 C857.63 1949.73 854.68 1941.68 853.6 1939 Z" fill="#000"/>
<line x1="942.8" y1="2151" x2="942.8" y2="2159.8" stroke="#000" stroke-width="3.8" stroke-linecap="butt"/>
<line x1="857.8" y1="2142.5" x2="857.8" y2="2153" stroke="#000" stroke-width="2.4" stroke-linecap="butt"/>
<polygon points="967.61,1366.25 969.3,1367.64 971.58,1369.49 974.27,1371.69 977.24,1374.13 980.33,1376.69 983.39,1379.27 986.26,1381.73 988.8,1383.98 991.12,1386.07 993.38,1388.16 995.57,1390.23 997.69,1392.27 999.72,1394.28 1001.67,1396.27 1003.53,1398.22 1005.29,1400.13 1006.98,1402.01 1008.6,1403.91 1010.15,1405.8 1011.62,1407.67 1013,1409.48 1014.29,1411.23 1015.48,1412.88 1016.55,1414.38 1017.52,1415.71 1018.35,1416.93 1019.08,1418.09 1019.73,1419.18 1020.32,1420.22 1020.87,1421.2 1021.4,1422.14 1021.91,1422.99 1022.35,1423.7 1022.71,1424.27 1023.02,1424.76 1023.28,1425.18 1023.52,1425.55 1023.74,1425.88 1023.96,1426.19 1024.17,1426.45 1027.03,1425.55 1027.07,1425.27 1027.11,1424.94 1027.13,1424.52 1027.11,1424.01 1027.04,1423.39 1026.92,1422.69 1026.74,1421.88 1026.49,1421.01 1026.23,1420.09 1025.95,1419.08 1025.61,1417.95 1025.19,1416.69 1024.69,1415.33 1024.07,1413.85 1023.33,1412.27 1022.45,1410.62 1021.41,1408.92 1020.27,1407.13 1019.02,1405.22 1017.67,1403.23 1016.21,1401.18 1014.67,1399.09 1013.03,1396.97 1011.31,1394.87 1009.5,1392.79 1007.61,1390.68 1005.62,1388.56 1003.56,1386.41 1001.43,1384.24 999.22,1382.05 996.95,1379.85 994.6,1377.62 991.99,1375.25 989.06,1372.67 985.98,1370.01 982.89,1367.38 979.93,1364.89 977.26,1362.64 975.03,1360.76 973.39,1359.35" fill="#ff0000"/>
<path d="M969.7 1388.3 C973.37 1391.08 985.27 1400.27 991.7 1405 C998.13 1409.73 1003.3 1413.65 1008.3 1416.7 C1013.3 1419.75 1018.75 1422 1021.7 1423.3 C1024.65 1424.6 1025.28 1424.3 1026 1424.5" fill="none" stroke="#ff0000" stroke-width="3.7" stroke-linecap="butt" stroke-linejoin="round" />
<path d="M969.7 1398.3 C973.37 1401.08 985.27 1410 991.7 1415 C998.13 1420 1003.87 1424.97 1008.3 1428.3 C1012.73 1431.63 1015.8 1433.67 1018.3 1435 C1020.8 1436.33 1022.05 1436.58 1023.3 1436.3 C1024.55 1436.02 1025.3 1434.9 1025.8 1433.3 C1026.3 1431.7 1026.22 1427.8 1026.3 1426.7" fill="none" stroke="#ff0000" stroke-width="3.7" stroke-linecap="butt" stroke-linejoin="round" />
<path d="M1025.8 1423.3 C1032.62 1427.75 1051.55 1440.27 1066.7 1450 C1081.85 1459.73 1100.03 1471.42 1116.7 1481.7 C1133.37 1491.98 1152.82 1503.65 1166.7 1511.7 C1180.58 1519.75 1186.12 1521.95 1200 1530 C1213.88 1538.05 1236.12 1551.38 1250 1560 C1263.88 1568.62 1273.58 1575.03 1283.3 1581.7 C1293.02 1588.37 1302.18 1595 1308.3 1600 C1314.42 1605 1318.05 1609.75 1320 1611.7" fill="none" stroke="#ff0000" stroke-width="4.1" stroke-linecap="butt" stroke-linejoin="round" />
<path d="M1025.8 1431.7 C1032.62 1436.28 1051.55 1449.35 1066.7 1459.2 C1081.85 1469.05 1100.03 1480.53 1116.7 1490.8 C1133.37 1501.07 1152.82 1512.73 1166.7 1520.8 C1180.58 1528.87 1186.12 1531.28 1200 1539.2 C1213.88 1547.12 1236.12 1559.83 1250 1568.3 C1263.88 1576.77 1274.13 1584.17 1283.3 1590 C1292.47 1595.83 1299.88 1600.3 1305 1603.3 C1310.12 1606.3 1312.5 1607.22 1314 1608" fill="none" stroke="#ff0000" stroke-width="4.1" stroke-linecap="butt" stroke-linejoin="round" />
<polygon points="1314.2,1596.2 1323.8,1615.5 1305.5,1603" fill="#ff0000"/>
<path d="M1320 1611.7 C1322.22 1614.75 1328.02 1621.95 1333.3 1630 C1338.58 1638.05 1346.42 1650.83 1351.7 1660 C1356.98 1669.17 1360.57 1676.12 1365 1685 C1369.43 1693.88 1374.13 1703.58 1378.3 1713.3 C1382.47 1723.02 1386.38 1733.3 1390 1743.3 C1393.62 1753.3 1396.95 1763.57 1400 1773.3 C1403.05 1783.03 1405.52 1792.25 1408.3 1801.7 C1411.08 1811.15 1413.92 1820.12 1416.7 1830 C1419.48 1839.88 1422.78 1851.83 1425 1861 C1427.22 1870.17 1428.33 1876.83 1430 1885 C1431.67 1893.17 1433.47 1902.22 1435 1910 C1436.53 1917.78 1438.23 1926.28 1439.2 1931.7 C1440.17 1937.12 1440.53 1940.7 1440.8 1942.5" fill="none" stroke="#ff0000" stroke-width="3.7" stroke-linecap="butt" stroke-linejoin="round" />
<rect x="1439" y="1944.9" width="3.6" height="3.6" fill="#000"/>
<rect x="1440.2" y="1952.4" width="3.6" height="3.6" fill="#000"/>
<rect x="1441.2" y="1958.2" width="3.6" height="3.6" fill="#000"/>
<rect x="1442.1" y="1964" width="3.6" height="3.6" fill="#000"/>
<rect x="1442.8" y="1969" width="3.6" height="3.6" fill="#000"/>
<rect x="1443.5" y="1974.9" width="3.6" height="3.6" fill="#000"/>
<rect x="1444.1" y="1980.7" width="3.6" height="3.6" fill="#000"/>
<rect x="1444.8" y="1986.5" width="3.6" height="3.6" fill="#000"/>
<rect x="1445.4" y="1992.4" width="3.6" height="3.6" fill="#000"/>
<rect x="1446.2" y="1999.9" width="3.6" height="3.6" fill="#000"/>
<rect x="1446.9" y="2006.5" width="3.6" height="3.6" fill="#000"/>
<rect x="1447.8" y="2014" width="3.6" height="3.6" fill="#000"/>
<rect x="1448.5" y="2021.5" width="3.6" height="3.6" fill="#000"/>
<rect x="1449.3" y="2029" width="3.6" height="3.6" fill="#000"/>
<rect x="1450" y="2038.2" width="3.6" height="3.6" fill="#000"/>
<rect x="1450.7" y="2047.4" width="3.6" height="3.6" fill="#000"/>
<rect x="1451.3" y="2057.4" width="3.6" height="3.6" fill="#000"/>
<rect x="1452" y="2068.2" width="3.6" height="3.6" fill="#000"/>
<rect x="1452.6" y="2081.4" width="3.6" height="3.6" fill="#000"/>
<rect x="1453.1" y="2096.8" width="3.6" height="3.6" fill="#000"/>
<rect x="1454.1" y="2116.3" width="3.6" height="3.6" fill="#000"/>
<rect x="1454.9" y="2151.5" width="3.6" height="3.6" fill="#000"/>
<line x1="807.1" y1="1847.8" x2="807.1" y2="1876.3" stroke="#0a8a10" stroke-width="3.6" stroke-linecap="butt"/>
<path d="M807.1 1883.8 L801.4 1868.8 Q805.11 1871.8 807.1 1873.9 Q809.1 1871.8 812.8 1868.8 Z" fill="#0a8a10"/>
<line x1="806.74" y1="1903.6" x2="806.74" y2="1932.1" stroke="#0a8a10" stroke-width="3.6" stroke-linecap="butt"/>
<path d="M806.74 1939.6 L801.04 1924.6 Q804.75 1927.6 806.74 1929.7 Q808.74 1927.6 812.44 1924.6 Z" fill="#0a8a10"/>
<line x1="806.41" y1="1956" x2="806.41" y2="1984.5" stroke="#0a8a10" stroke-width="3.6" stroke-linecap="butt"/>
<path d="M806.41 1992 L800.71 1977 Q804.41 1980 806.41 1982.1 Q808.4 1980 812.11 1977 Z" fill="#0a8a10"/>
<line x1="806.05" y1="2012" x2="806.05" y2="2040.5" stroke="#0a8a10" stroke-width="3.6" stroke-linecap="butt"/>
<path d="M806.05 2048 L800.35 2033 Q804.05 2036 806.05 2038.1 Q808.04 2036 811.75 2033 Z" fill="#0a8a10"/>
<line x1="805.67" y1="2070.3" x2="805.67" y2="2098.8" stroke="#0a8a10" stroke-width="3.6" stroke-linecap="butt"/>
<path d="M805.67 2106.3 L799.97 2091.3 Q803.68 2094.3 805.67 2096.4 Q807.67 2094.3 811.37 2091.3 Z" fill="#0a8a10"/>
<line x1="805.31" y1="2126.3" x2="805.31" y2="2154.8" stroke="#0a8a10" stroke-width="3.6" stroke-linecap="butt"/>
<path d="M805.31 2162.3 L799.61 2147.3 Q803.32 2150.3 805.31 2152.4 Q807.31 2150.3 811.01 2147.3 Z" fill="#0a8a10"/>
<line x1="317.1" y1="1340.4" x2="317.1" y2="1355.8" stroke="#2d2b2b" stroke-width="5" stroke-linecap="butt"/>
<line x1="317.1" y1="2225.7" x2="317.1" y2="2211.1" stroke="#2d2b2b" stroke-width="5" stroke-linecap="butt"/>
<line x1="605.2" y1="1340.4" x2="605.2" y2="1355.8" stroke="#2d2b2b" stroke-width="5" stroke-linecap="butt"/>
<line x1="605.2" y1="2225.7" x2="605.2" y2="2211.1" stroke="#2d2b2b" stroke-width="5" stroke-linecap="butt"/>
<line x1="893.1" y1="1340.4" x2="893.1" y2="1355.8" stroke="#2d2b2b" stroke-width="5" stroke-linecap="butt"/>
<line x1="893.1" y1="2225.7" x2="893.1" y2="2211.1" stroke="#2d2b2b" stroke-width="5" stroke-linecap="butt"/>
<line x1="1180.6" y1="1340.4" x2="1180.6" y2="1355.8" stroke="#2d2b2b" stroke-width="5" stroke-linecap="butt"/>
<line x1="1180.6" y1="2225.7" x2="1180.6" y2="2211.1" stroke="#2d2b2b" stroke-width="5" stroke-linecap="butt"/>
<line x1="1468.5" y1="1340.4" x2="1468.5" y2="1355.8" stroke="#2d2b2b" stroke-width="5" stroke-linecap="butt"/>
<line x1="1468.5" y1="2225.7" x2="1468.5" y2="2211.1" stroke="#2d2b2b" stroke-width="5" stroke-linecap="butt"/>
<line x1="245.6" y1="1428.7" x2="260.2" y2="1428.7" stroke="#2d2b2b" stroke-width="3.4" stroke-linecap="butt"/>
<line x1="1540.3" y1="1428.7" x2="1525.7" y2="1428.7" stroke="#2d2b2b" stroke-width="3.4" stroke-linecap="butt"/>
<line x1="245.6" y1="1605.4" x2="260.2" y2="1605.4" stroke="#2d2b2b" stroke-width="3.4" stroke-linecap="butt"/>
<line x1="1540.3" y1="1605.4" x2="1525.7" y2="1605.4" stroke="#2d2b2b" stroke-width="3.4" stroke-linecap="butt"/>
<line x1="245.6" y1="1783" x2="260.2" y2="1783" stroke="#2d2b2b" stroke-width="3.4" stroke-linecap="butt"/>
<line x1="1540.3" y1="1783" x2="1525.7" y2="1783" stroke="#2d2b2b" stroke-width="3.4" stroke-linecap="butt"/>
<line x1="245.6" y1="1960" x2="260.2" y2="1960" stroke="#2d2b2b" stroke-width="3.4" stroke-linecap="butt"/>
<line x1="1540.3" y1="1960" x2="1525.7" y2="1960" stroke="#2d2b2b" stroke-width="3.4" stroke-linecap="butt"/>
<line x1="245.6" y1="2136.6" x2="260.2" y2="2136.6" stroke="#2d2b2b" stroke-width="3.4" stroke-linecap="butt"/>
<line x1="1540.3" y1="2136.6" x2="1525.7" y2="2136.6" stroke="#2d2b2b" stroke-width="3.4" stroke-linecap="butt"/>
<line x1="243.7" y1="1340.4" x2="1542.2" y2="1340.4" stroke="#2d2b2b" stroke-width="4.4" stroke-linecap="butt"/>
<line x1="243.7" y1="2225.7" x2="1542.2" y2="2225.7" stroke="#2d2b2b" stroke-width="3.8" stroke-linecap="butt"/>
<line x1="245.6" y1="1338.2" x2="245.6" y2="2227.6" stroke="#2d2b2b" stroke-width="3.8" stroke-linecap="butt"/>
<line x1="1540.3" y1="1338.2" x2="1540.3" y2="2227.6" stroke="#2d2b2b" stroke-width="3.8" stroke-linecap="butt"/>
<clipPath id="c2"><polygon points="152.81,1398.64 171.02,1398.64 171.02,1446 165.16,1446 165.16,1431.4 152.81,1431.4"/><polygon points="183,1396.75 217.24,1396.75 217.24,1447 183,1447"/></clipPath>
<g clip-path="url(#c2)"><text transform="matrix(0.63000 0 0 0.63000 149.40 1444.00)" font-family='"Liberation Sans", sans-serif' font-style="normal" font-weight="normal" font-size="100" fill="#4c4848" letter-spacing="-3.09">10</text></g>
<text transform="matrix(0.65600 0 0 0.62754 160.16 74.90)" font-family='"Liberation Sans", sans-serif' font-style="normal" font-weight="normal" font-size="100" fill="#4c4848">4</text>
<text transform="matrix(0.58511 0 0 0.60423 161.16 280.10)" font-family='"Liberation Sans", sans-serif' font-style="normal" font-weight="normal" font-size="100" fill="#4c4848">3</text>
<text transform="matrix(0.63297 0 0 0.62000 160.64 486.00)" font-family='"Liberation Sans", sans-serif' font-style="normal" font-weight="normal" font-size="100" fill="#4c4848">2</text>
<text transform="matrix(0.62737 0 0 0.63380 160.49 897.27)" font-family='"Liberation Sans", sans-serif' font-style="normal" font-weight="normal" font-size="100" fill="#4c4848">0</text>
<text transform="matrix(0.61887 0 0 0.64366 242.32 1012.06)" font-family='"Liberation Sans", sans-serif' font-style="normal" font-weight="normal" font-size="100" fill="#4c4848">320</text>
<text transform="matrix(0.61887 0 0 0.64366 530.22 1012.06)" font-family='"Liberation Sans", sans-serif' font-style="normal" font-weight="normal" font-size="100" fill="#4c4848">360</text>
<text transform="matrix(0.62866 0 0 0.64366 816.53 1012.06)" font-family='"Liberation Sans", sans-serif' font-style="normal" font-weight="normal" font-size="100" fill="#4c4848">400</text>
<text transform="matrix(0.63302 0 0 0.64366 1103.82 1012.06)" font-family='"Liberation Sans", sans-serif' font-style="normal" font-weight="normal" font-size="100" fill="#4c4848">440</text>
<text transform="matrix(0.62679 0 0 0.64366 1392.13 1012.06)" font-family='"Liberation Sans", sans-serif' font-style="normal" font-weight="normal" font-size="100" fill="#4c4848">480</text>
<text transform="matrix(0.83609 0 0 0.69848 744.33 1103.20)" font-family='"Liberation Serif", serif' font-style="italic" font-weight="normal" font-size="100" fill="#231815">Ω</text>
<text transform="matrix(0.74325 0 0 0.74778 812.56 1098.60)" font-family='"Liberation Serif", serif' font-style="normal" font-weight="normal" font-size="100" fill="#231815"> (rad/s)</text>
<text transform="matrix(0.83535 0 0 0.86444 763.54 1265.35)" font-family='"Liberation Serif", serif' font-style="normal" font-weight="normal" font-size="100" fill="#000">(<tspan font-weight="bold">a</tspan>)</text>
<text transform="matrix(0 -0.72428 0.75143 0 103.15 647.17)" font-family='"Liberation Serif", serif' font-style="normal" font-weight="normal" font-size="100" fill="#231815">Peak</text>
<text transform="matrix(0 -0.71321 0.74776 0 102.62 483.84)" font-family='"Liberation Serif", serif' font-style="italic" font-weight="normal" font-size="100" fill="#231815"> y</text>
<text transform="matrix(0 -0.75608 0.74889 0 102.97 434.20)" font-family='"Liberation Serif", serif' font-style="normal" font-weight="normal" font-size="100" fill="#231815"> (μm)</text>
<text transform="matrix(0 -0.50564 0.50882 0 766.74 653.33)" font-family='"Liberation Serif", serif' font-style="normal" font-weight="normal" font-size="100" fill="#c40000">388.20</text>
<text transform="matrix(0.53134 0 0 0.62901 228.72 843.20)" font-family='"Liberation Serif", serif' font-style="italic" font-weight="normal" font-size="100" fill="#000">A</text>
<text transform="matrix(0.31429 0 0 0.37863 255.77 859.50)" font-family='"Liberation Serif", serif' font-style="normal" font-weight="normal" font-size="100" fill="#000">1</text>
<text transform="matrix(0.52687 0 0 0.60000 389.60 843.20)" font-family='"Liberation Serif", serif' font-style="italic" font-weight="normal" font-size="100" fill="#000">A</text>
<text transform="matrix(0.41250 0 0 0.38636 414.44 859.50)" font-family='"Liberation Serif", serif' font-style="normal" font-weight="normal" font-size="100" fill="#000">2</text>
<text transform="matrix(0.51343 0 0 0.63053 465.82 201.50)" font-family='"Liberation Serif", serif' font-style="italic" font-weight="normal" font-size="100" fill="#000">A</text>
<text transform="matrix(0.39355 0 0 0.38462 491.91 218.59)" font-family='"Liberation Serif", serif' font-style="normal" font-weight="normal" font-size="100" fill="#000">4</text>
<text transform="matrix(0.61897 0 0 0.60763 940.68 278.80)" font-family='"Liberation Serif", serif' font-style="italic" font-weight="normal" font-size="100" fill="#000">B</text>
<text transform="matrix(0.35500 0 0 0.39699 970.47 295.70)" font-family='"Liberation Serif", serif' font-style="normal" font-weight="normal" font-size="100" fill="#000">5</text>
<text transform="matrix(0.60172 0 0 0.59695 1005.00 422.50)" font-family='"Liberation Serif", serif' font-style="italic" font-weight="normal" font-size="100" fill="#000">B</text>
<text transform="matrix(0.37419 0 0 0.39692 1032.35 440.10)" font-family='"Liberation Serif", serif' font-style="normal" font-weight="normal" font-size="100" fill="#000">4</text>
<text transform="matrix(0.61897 0 0 0.59847 784.08 846.90)" font-family='"Liberation Serif", serif' font-style="italic" font-weight="normal" font-size="100" fill="#000">B</text>
<text transform="matrix(0.35765 0 0 0.41045 812.69 862.79)" font-family='"Liberation Serif", serif' font-style="normal" font-weight="normal" font-size="100" fill="#000">6</text>
<text transform="matrix(0.61897 0 0 0.59847 925.88 846.90)" font-family='"Liberation Serif", serif' font-style="italic" font-weight="normal" font-size="100" fill="#000">B</text>
<text transform="matrix(0.39259 0 0 0.40615 954.55 864.40)" font-family='"Liberation Serif", serif' font-style="normal" font-weight="normal" font-size="100" fill="#000">7</text>
<text transform="matrix(0.61897 0 0 0.59695 1304.08 831.60)" font-family='"Liberation Serif", serif' font-style="italic" font-weight="normal" font-size="100" fill="#000">B</text>
<text transform="matrix(0.33659 0 0 0.37761 1333.62 847.72)" font-family='"Liberation Serif", serif' font-style="normal" font-weight="normal" font-size="100" fill="#000">3</text>
<text transform="matrix(0.62069 0 0 0.59847 1438.38 846.50)" font-family='"Liberation Serif", serif' font-style="italic" font-weight="normal" font-size="100" fill="#000">B</text>
<text transform="matrix(0.32000 0 0 0.39847 1467.92 864.70)" font-family='"Liberation Serif", serif' font-style="normal" font-weight="normal" font-size="100" fill="#000">1</text>
<text transform="matrix(0.63441 0 0 0.64789 170.05 1621.05)" font-family='"Liberation Sans", sans-serif' font-style="normal" font-weight="normal" font-size="100" fill="#4c4848">9</text>
<text transform="matrix(0.64894 0 0 0.64789 169.58 1798.45)" font-family='"Liberation Sans", sans-serif' font-style="normal" font-weight="normal" font-size="100" fill="#4c4848">8</text>
<text transform="matrix(0.63736 0 0 0.64058 169.31 1975.00)" font-family='"Liberation Sans", sans-serif' font-style="normal" font-weight="normal" font-size="100" fill="#4c4848">7</text>
<text transform="matrix(0.66739 0 0 0.64507 168.16 2152.65)" font-family='"Liberation Sans", sans-serif' font-style="normal" font-weight="normal" font-size="100" fill="#4c4848">6</text>
<text transform="matrix(0.61258 0 0 0.63380 259.25 2301.57)" font-family='"Liberation Sans", sans-serif' font-style="normal" font-weight="normal" font-size="100" fill="#4c4848">320</text>
<text transform="matrix(0.62264 0 0 0.63380 546.11 2301.57)" font-family='"Liberation Sans", sans-serif' font-style="normal" font-weight="normal" font-size="100" fill="#4c4848">360</text>
<text transform="matrix(0.62305 0 0 0.63380 833.34 2301.57)" font-family='"Liberation Sans", sans-serif' font-style="normal" font-weight="normal" font-size="100" fill="#4c4848">400</text>
<text transform="matrix(0.62305 0 0 0.63380 1121.34 2301.57)" font-family='"Liberation Sans", sans-serif' font-style="normal" font-weight="normal" font-size="100" fill="#4c4848">440</text>
<text transform="matrix(0.62492 0 0 0.63380 1408.64 2301.57)" font-family='"Liberation Sans", sans-serif' font-style="normal" font-weight="normal" font-size="100" fill="#4c4848">480</text>
<text transform="matrix(0.82105 0 0 0.69697 761.26 2384.10)" font-family='"Liberation Serif", serif' font-style="italic" font-weight="normal" font-size="100" fill="#231815">Ω</text>
<text transform="matrix(0.74960 0 0 0.73000 828.33 2378.97)" font-family='"Liberation Serif", serif' font-style="normal" font-weight="normal" font-size="100" fill="#231815"> (rad/s)</text>
<text transform="matrix(0.85815 0 0 0.88111 759.04 2503.70)" font-family='"Liberation Serif", serif' font-style="normal" font-weight="normal" font-size="100" fill="#000">(<tspan font-weight="bold">b</tspan>)</text>
<text transform="matrix(0 -0.72428 0.75143 0 103.15 1952.27)" font-family='"Liberation Serif", serif' font-style="normal" font-weight="normal" font-size="100" fill="#231815">Peak</text>
<text transform="matrix(0 -0.75730 0.75824 0 103.90 1791.74)" font-family='"Liberation Serif", serif' font-style="italic" font-weight="normal" font-size="100" fill="#231815"> x</text>
<text transform="matrix(0 -0.75556 0.74889 0 102.97 1739.20)" font-family='"Liberation Serif", serif' font-style="normal" font-weight="normal" font-size="100" fill="#231815"> (μm)</text>
<text transform="matrix(0 -0.50489 0.50735 0 792.24 2071.72)" font-family='"Liberation Serif", serif' font-style="normal" font-weight="normal" font-size="100" fill="#c40000">388.20</text>
<text transform="matrix(0.63793 0 0 0.60305 913.16 1413.50)" font-family='"Liberation Serif", serif' font-style="italic" font-weight="normal" font-size="100" fill="#000">B</text>
<text transform="matrix(0.38250 0 0 0.39850 941.71 1431.80)" font-family='"Liberation Serif", serif' font-style="normal" font-weight="normal" font-size="100" fill="#000">5</text>
<text transform="matrix(0.61379 0 0 0.61374 1034.79 1418.40)" font-family='"Liberation Serif", serif' font-style="italic" font-weight="normal" font-size="100" fill="#000">B</text>
<text transform="matrix(0.36559 0 0 0.38462 1063.27 1436.19)" font-family='"Liberation Serif", serif' font-style="normal" font-weight="normal" font-size="100" fill="#000">4</text>
<text transform="matrix(0.58448 0 0 0.59237 1329.02 1599.50)" font-family='"Liberation Serif", serif' font-style="italic" font-weight="normal" font-size="100" fill="#000">B</text>
<text transform="matrix(0.36098 0 0 0.37910 1354.30 1617.12)" font-family='"Liberation Serif", serif' font-style="normal" font-weight="normal" font-size="100" fill="#000">3</text>
<text transform="matrix(0.59483 0 0 0.59084 810.81 2143.90)" font-family='"Liberation Serif", serif' font-style="italic" font-weight="normal" font-size="100" fill="#000">B</text>
<text transform="matrix(0.44941 0 0 0.37910 836.48 2160.92)" font-family='"Liberation Serif", serif' font-style="normal" font-weight="normal" font-size="100" fill="#000">6</text>
<text transform="matrix(0.58276 0 0 0.59084 953.32 2143.90)" font-family='"Liberation Serif", serif' font-style="italic" font-weight="normal" font-size="100" fill="#000">B</text>
<text transform="matrix(0.36543 0 0 0.38923 980.02 2162.49)" font-family='"Liberation Serif", serif' font-style="normal" font-weight="normal" font-size="100" fill="#000">7</text>
<text transform="matrix(0.57586 0 0 0.58779 1465.92 2143.50)" font-family='"Liberation Serif", serif' font-style="italic" font-weight="normal" font-size="100" fill="#000">B</text>
<text transform="matrix(0.29714 0 0 0.39847 1493.73 2161.80)" font-family='"Liberation Serif", serif' font-style="normal" font-weight="normal" font-size="100" fill="#000">1</text>
</svg></body></html>
